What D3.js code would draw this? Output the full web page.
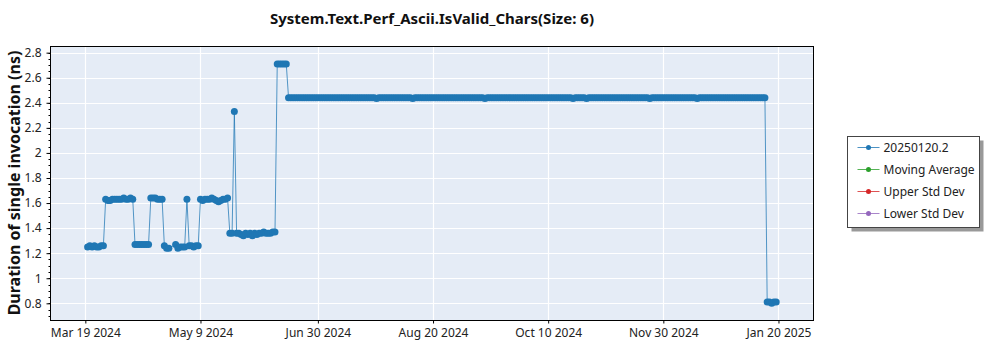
<!DOCTYPE html>
<html>
<head>
<meta charset="utf-8">
<script src="https://cdn.jsdelivr.net/npm/d3@7"></script>
<style>
body { margin: 0; background: #fff; }
svg { font-family: "Segoe UI", "Noto Sans", sans-serif; }
</style>
</head>
<body>
<svg width="1000" height="350"></svg>
<script>
var title = "System.Text.Perf_Ascii.IsValid_Chars(Size: 6)";
var yTitle = "Duration of single invocation (ns)";
var seriesNames = ["20250120.2", "Moving Average", "Upper Std Dev", "Lower Std Dev"];
var seriesColors = ["#1f77b4", "#2ca02c", "#d62728", "#9467bd"];

// one value per day starting at firstDay, null = no run that day
var firstDay = "2024-03-20";
var values = [
  1.25, 1.26, 1.25, 1.26, 1.25, 1.25, 1.26, 1.26,
  1.63, 1.62, 1.62, 1.63, 1.63, 1.63, 1.63, 1.63, 1.64, 1.63, 1.63, 1.64, 1.63,
  1.27, 1.27, 1.27, 1.27, 1.27, 1.27, 1.27,
  1.64, 1.64, 1.64, 1.63, 1.63, 1.63,
  1.26, 1.24, 1.24, null, null, 1.27, 1.24, 1.25, 1.25, 1.25,
  1.63,
  1.26, 1.26, 1.25, 1.26, 1.26,
  1.63, 1.62, 1.63, 1.63, 1.63, 1.64, 1.63, 1.62, 1.61, 1.62, 1.63, 1.63, 1.64,
  1.36, 1.36, 2.33, 1.36, 1.36, 1.35, 1.34, 1.36, 1.35, 1.36, 1.34, 1.36, 1.35,
  1.36, 1.36, 1.37, 1.36, 1.36, 1.36, 1.37, 1.37,
  2.71, 2.71, 2.71, 2.71, 2.71,
  2.44, 2.44, 2.44, 2.44, 2.44, 2.44, 2.44, 2.44, 2.44, 2.44,
  2.44, 2.44, 2.44, 2.44, 2.44, 2.44, 2.44, 2.44, 2.44, 2.44,
  2.44, 2.44, 2.44, 2.44, 2.44, 2.44, 2.44, 2.44, 2.44, 2.44,
  2.44, 2.44, 2.44, 2.44, 2.44, 2.44, 2.44, 2.44, 2.44, 2.435,
  2.44, 2.44, 2.44, 2.44, 2.44, 2.44, 2.44, 2.44, 2.44, 2.44,
  2.44, 2.44, 2.44, 2.44, 2.44, 2.435, 2.44, 2.44, 2.44, 2.44,
  2.44, 2.44, 2.44, 2.44, 2.44, 2.44, 2.44, 2.44, 2.44, 2.44,
  2.44, 2.44, 2.44, 2.44, 2.44, 2.44, 2.44, 2.44, 2.44, 2.44,
  2.44, 2.44, 2.44, 2.44, 2.44, 2.44, 2.44, 2.435, 2.44, 2.44,
  2.44, 2.44, 2.44, 2.44, 2.44, 2.44, 2.44, 2.44, 2.44, 2.44,
  2.44, 2.44, 2.44, 2.44, 2.44, 2.44, 2.44, 2.44, 2.44, 2.44,
  2.44, 2.44, 2.44, 2.44, 2.44, 2.44, 2.44, 2.44, 2.44, 2.44,
  2.44, 2.44, 2.44, 2.44, 2.44, 2.44, 2.435, 2.44, 2.44, 2.44,
  2.44, 2.44, 2.435, 2.44, 2.44, 2.44, 2.44, 2.44, 2.44, 2.44,
  2.44, 2.44, 2.44, 2.44, 2.44, 2.44, 2.44, 2.44, 2.44, 2.44,
  2.44, 2.44, 2.44, 2.44, 2.44, 2.44, 2.44, 2.44, 2.44, 2.44,
  2.435, 2.44, 2.44, 2.44, 2.44, 2.44, 2.44, 2.44, 2.44, 2.44,
  2.44, 2.44, 2.44, 2.44, 2.44, 2.44, 2.44, 2.44, 2.44, 2.44,
  2.44, 2.435, 2.44, 2.44, 2.44, 2.44, 2.44, 2.44, 2.44, 2.44,
  2.44, 2.44, 2.44, 2.44, 2.44, 2.44, 2.44, 2.44, 2.44, 2.44,
  2.44, 2.44, 2.44, 2.44, 2.44, 2.44, 2.44, 2.44, 2.44, 2.44,
  2.44, 2.44,
  0.81, 0.81, 0.80, 0.81, 0.81
];

var xTicks = ["2024-03-19", "2024-05-09", "2024-06-30", "2024-08-20", "2024-10-10", "2024-11-30", "2025-01-20"];
var yTicks = [0.8, 1, 1.2, 1.4, 1.6, 1.8, 2, 2.2, 2.4, 2.6, 2.8];
var xDomain = ["2024-03-03T19:00", "2025-02-04T07:00"];
var yDomain = [0.667, 2.853];

var svg = d3.select("svg");
var plot = {left: 51, right: 813, top: 46, bottom: 320};

var parseDay = d3.utcParse("%Y-%m-%d"),
    parseTime = d3.utcParse("%Y-%m-%dT%H:%M"),
    fmt = d3.utcFormat("%b %-d %Y");

var start = parseDay(firstDay);
var data = values.map(function(v, i) { return {date: d3.utcDay.offset(start, i), value: v}; })
  .filter(function(d) { return d.value != null; });

var x = d3.scaleUtc()
    .domain(xDomain.map(parseTime))
    .range([plot.left, plot.right]);
var y = d3.scaleLinear()
    .domain(yDomain)
    .range([plot.bottom, plot.top]);

// plot background
svg.append("rect")
    .attr("x", plot.left).attr("y", plot.top)
    .attr("width", plot.right - plot.left).attr("height", plot.bottom - plot.top)
    .attr("fill", "#e5ecf6");

// grid
svg.append("g").selectAll("line")
  .data(yTicks).enter().append("line")
    .attr("x1", plot.left).attr("x2", plot.right)
    .attr("y1", function(d) { return Math.round(y(d)) + 0.5; })
    .attr("y2", function(d) { return Math.round(y(d)) + 0.5; })
    .attr("stroke", "#fff").attr("stroke-width", 1.2);
svg.append("g").selectAll("line")
  .data(xTicks).enter().append("line")
    .attr("x1", function(d) { return Math.round(x(parseDay(d))) + 0.5; })
    .attr("x2", function(d) { return Math.round(x(parseDay(d))) + 0.5; })
    .attr("y1", plot.top).attr("y2", plot.bottom)
    .attr("stroke", "#fff").attr("stroke-width", 1.2);

// series
var line = d3.line()
    .x(function(d) { return x(d.date); })
    .y(function(d) { return y(d.value); });

svg.append("path")
    .datum(data)
    .attr("fill", "none")
    .attr("stroke", seriesColors[0])
    .attr("stroke-opacity", 0.75)
    .attr("stroke-width", 1)
    .attr("d", line);

svg.append("g").selectAll("circle")
  .data(data).enter().append("circle")
    .attr("cx", function(d) { return x(d.date); })
    .attr("cy", function(d) { return y(d.value); })
    .attr("r", 3.5)
    .attr("fill", seriesColors[0]);

// frame
svg.append("rect")
    .attr("x", plot.left - 0.5).attr("y", plot.top + 0.5)
    .attr("width", plot.right - plot.left + 1).attr("height", plot.bottom - plot.top)
    .attr("fill", "none").attr("stroke", "#000").attr("stroke-width", 1);

// axes
var yAxis = svg.append("g")
    .attr("transform", "translate(" + (plot.left - 0.5) + ",0)")
    .call(d3.axisLeft(y).tickValues(yTicks).tickSize(4).tickPadding(5)
      .tickFormat(function(d) { return String(d); }));
yAxis.select(".domain").remove();
yAxis.selectAll("text").attr("font-size", 12).attr("fill", "#222")
    .attr("font-family", "'Segoe UI', 'Noto Sans', sans-serif");

var minor = d3.range(14, 57).map(function(i) { return i * 0.05; })
  .filter(function(v) { return v > yDomain[0] && v < yDomain[1]; });
svg.append("g").selectAll("line")
  .data(minor).enter().append("line")
    .attr("x1", plot.left - 2.5).attr("x2", plot.left - 0.5)
    .attr("y1", function(d) { return Math.round(y(d)) + 0.5; })
    .attr("y2", function(d) { return Math.round(y(d)) + 0.5; })
    .attr("stroke", "#000");

var xAxis = svg.append("g")
    .attr("transform", "translate(0," + (plot.bottom + 0.5) + ")")
    .call(d3.axisBottom(x).tickValues(xTicks.map(parseDay)).tickSize(3).tickPadding(5)
      .tickFormat(fmt));
xAxis.select(".domain").remove();
xAxis.selectAll("text").attr("font-size", 12).attr("fill", "#222")
    .attr("font-family", "'Segoe UI', 'Noto Sans', sans-serif");

// titles
svg.append("text")
    .attr("x", (plot.left + plot.right) / 2).attr("y", 24)
    .attr("text-anchor", "middle")
    .attr("font-size", 15).attr("font-weight", "bold").attr("fill", "#111")
    .text(title);

svg.append("text")
    .attr("transform", "translate(20," + (plot.top + plot.bottom) / 2 + ") rotate(-90)")
    .attr("text-anchor", "middle")
    .attr("font-size", 16).attr("font-weight", "bold").attr("fill", "#111")
    .text(yTitle);

// legend
var legend = svg.append("g").attr("transform", "translate(847.5,136.5)");
legend.append("rect")
    .attr("x", 4).attr("y", 4).attr("width", 132).attr("height", 91)
    .attr("fill", "#999");
legend.append("rect")
    .attr("width", 132).attr("height", 91)
    .attr("fill", "#fff").attr("stroke", "#444");

var item = legend.selectAll(".item")
  .data(seriesNames).enter().append("g")
    .attr("transform", function(d, i) { return "translate(0," + (11 + i * 22) + ")"; });
item.append("line")
    .attr("x1", 10).attr("x2", 32)
    .attr("stroke", function(d, i) { return seriesColors[i]; })
    .attr("stroke-opacity", 0.8);
item.append("circle")
    .attr("cx", 21).attr("r", 2.5)
    .attr("fill", function(d, i) { return seriesColors[i]; });
item.append("text")
    .attr("x", 36).attr("dy", "0.35em")
    .attr("font-size", 12).attr("fill", "#222")
    .text(function(d) { return d; });
</script>
</body>
</html>
